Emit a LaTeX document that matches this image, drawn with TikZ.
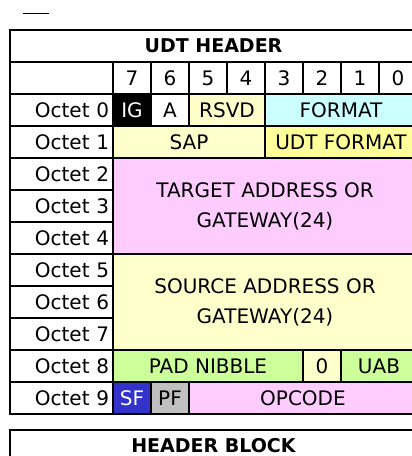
\documentclass[tikz,border=0pt]{standalone}
\usepackage{fontspec}
\setmainfont{DejaVu Sans}
\usepackage{xcolor}
\usepackage{tikz}
\usetikzlibrary{positioning}
\definecolor{paleyel}{HTML}{FFFFCC}
\definecolor{deepyel}{HTML}{FFFF99}
\definecolor{palecyan}{HTML}{CCFFFF}
\definecolor{palepink}{HTML}{FFCCFF}
\definecolor{palegrn}{HTML}{CCFF99}
\definecolor{sfblue}{HTML}{3333CC}
\definecolor{pfgray}{HTML}{C0C0C0}

\begin{document}
\begin{tikzpicture}[x=1pt, y=-1pt,
  cell/.style={draw, line width=1.6pt, minimum height=32pt, minimum width=38pt, inner sep=0pt, align=center, font=\fontsize{20}{30}\selectfont, fill=white},
  lab/.style={cell, minimum width=103pt, text width=95pt, align=right},
  title/.style={cell, minimum width=407pt, font=\fontsize{19}{30}\selectfont\bfseries}]
  \useasboundingbox (0,0) rectangle (412,456);
  \clip (0,0) rectangle (412,456);
  % little mark above the table
  \coordinate (markL) at (23,13.5);
  \coordinate (markR) at (49,13.5);
  \draw[line width=1.6pt] (markL) -- (markR);
  % header and bit numbers
  \node[title] (udt) at (213.5,46) {UDT HEADER};
  \node[cell, minimum width=103pt] (bitlab) at (61.5,78) {};
  \foreach \b [count=\k from 0] in {7,...,0}
    \node[cell] (bit\b) at ({132+38*\k},78) {\b};
  \foreach \i in {0,...,9}
    \node[lab] (oct\i) at (61.5,{110+32*\i}) {Octet \i};
  % octet 0
  \node[cell, fill=black, text=white] (ig) at (132,110) {IG};
  \node[cell] (abit) at (170,110) {A};
  \node[cell, fill=paleyel, minimum width=76pt] (rsvd) at (227,110) {RSVD};
  \node[cell, fill=palecyan, minimum width=152pt] (fmt) at (341,110) {FORMAT};
  % octet 1
  \node[cell, fill=paleyel, minimum width=152pt] (sap) at (189,142) {SAP};
  \node[cell, fill=deepyel, minimum width=152pt] (udtfmt) at (341,142) {UDT FORMAT};
  % octets 2-7
  \node[cell, fill=palepink, minimum width=304pt, minimum height=96pt] (tgt) at (265,206) {TARGET ADDRESS OR\\GATEWAY(24)};
  \node[cell, fill=paleyel, minimum width=304pt, minimum height=96pt] (src) at (265,302) {SOURCE ADDRESS OR\\GATEWAY(24)};
  % octet 8
  \node[cell, fill=palegrn, minimum width=190pt] (pad) at (208,366) {PAD NIBBLE};
  \node[cell, fill=paleyel] (zero) at (322,366) {0};
  \node[cell, fill=palegrn, minimum width=76pt] (uab) at (379,366) {UAB};
  % octet 9
  \node[cell, fill=sfblue, text=white] (sf) at (132,398) {SF};
  \node[cell, fill=pfgray] (pf) at (170,398) {PF};
  \node[cell, fill=palepink, minimum width=228pt] (opc) at (303,398) {OPCODE};
  % next block
  \node[title] (hdrblk) at (213.5,446) {HEADER BLOCK};
\end{tikzpicture}
\end{document}
